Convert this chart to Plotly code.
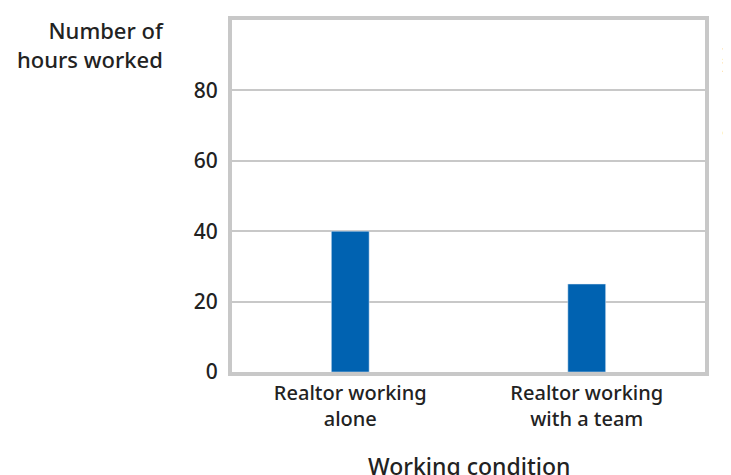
import plotly.graph_objects as go

categories = ["Realtor working<br>alone", "Realtor working<br>with a team"]
hours = [40, 25]
y_ticks = [0, 20, 40, 60, 80, 100]

fig = go.Figure(go.Bar(x=categories, y=hours, marker_color="#0062b1", width=0.16))
font = dict(family="Noto Sans", size=20, color="#222")
fig.update_layout(
    width=731, height=475, margin=dict(l=224, r=34, t=12, b=111, autoexpand=False),
    plot_bgcolor="white", paper_bgcolor="white", showlegend=False, font=font,
    xaxis=dict(showgrid=False, ticks="", tickfont=dict(size=20, weight=500), mirror=True,
               showline=True, linecolor="#c8c8c8", linewidth=4),
    yaxis=dict(range=[0, 100], tickvals=y_ticks, gridcolor="#c8c8c8", gridwidth=2,
               showline=True, linecolor="#c8c8c8", linewidth=4, mirror=True,
               ticks="outside", ticklen=6, tickcolor="white", tickfont=dict(size=21, weight=500), zeroline=False),
    annotations=[
        dict(text="Number of<br>hours worked", xref="paper", yref="paper", x=-0.14, y=1.02,
             xanchor="right", yanchor="top", showarrow=False, align="right",
             font=dict(size=22, color="#222", weight=500)),
        dict(text="Working condition", xref="paper", yref="paper", x=0.5, y=-0.268,
             xanchor="center", yanchor="middle", showarrow=False,
             font=dict(size=23, color="#222", weight=500)),
        dict(text="© BFW Publishers", xref="paper", yref="paper", x=1.049, y=1.0,
             xanchor="center", yanchor="top", showarrow=False, textangle=-90,
             font=dict(size=14, color="#222")),
    ],
)
fig.write_html("out.html")
